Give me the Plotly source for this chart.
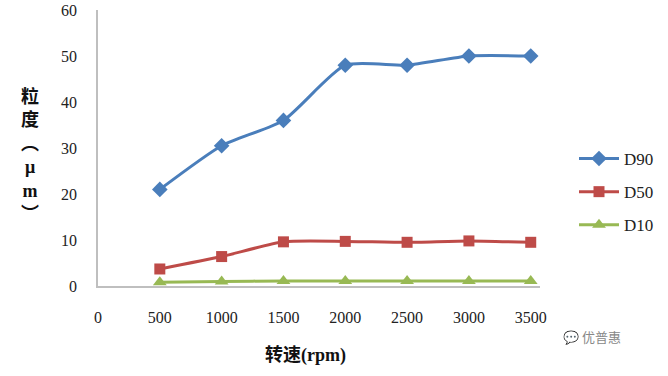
import plotly.graph_objects as go

speeds = [500, 1000, 1500, 2000, 2500, 3000, 3500]
d90 = [21, 30.5, 36, 48, 48, 50, 50]
d50 = [3.7, 6.4, 9.6, 9.7, 9.5, 9.8, 9.5]
d10 = [0.8, 1.0, 1.1, 1.1, 1.1, 1.1, 1.1]
x_ticks = [0, 500, 1000, 1500, 2000, 2500, 3000, 3500]
y_ticks = [0, 10, 20, 30, 40, 50, 60]

serif = "Liberation Serif"

# plot area in target-picture pixels (page margin removed by post_script)
L, R, T, B = 98, 540, 10, 286
W, H = R - L, B - T

def px_x(x):
    return (x - L) / W

def px_y(y):
    return (B - y) / H

fig = go.Figure()
series = [
    ("D90", d90, "#4A7EBB", "diamond", 12),
    ("D50", d50, "#BE4B48", "square", 11),
    ("D10", d10, "#98B954", "triangle-up", 12),
]
for name, vals, color, sym, sz in series:
    fig.add_trace(go.Scatter(
        x=speeds, y=vals, name=name, mode="lines+markers", legendgroup=name,
        line=dict(color=color, width=3, shape="spline", smoothing=0.6),
        marker=dict(symbol=sym, size=sz, color=color),
    ))

fig.update_layout(
    width=668, height=376,
    margin=dict(l=L, r=668 - R, t=T, b=376 - B, autoexpand=False),
    paper_bgcolor="white", plot_bgcolor="white",
    font=dict(family=serif, size=16, color="#222222"),
    showlegend=True,
    legend=dict(x=px_x(574), y=px_y(192), xanchor="left", yanchor="middle",
                font=dict(family=serif, size=17, color="#222222"),
                tracegroupgap=8, itemwidth=40, bgcolor="rgba(0,0,0,0)"),
    xaxis=dict(range=[0, 3575], tickmode="array", tickvals=x_ticks,
               ticktext=[str(v) for v in x_ticks], showgrid=False, zeroline=False,
               showline=True, linecolor="#BFBFBF", linewidth=1.5, ticks="",
               automargin=False, ticklabelstandoff=16, ticklabeloverflow="allow",
               tickfont=dict(family=serif, size=16, color="#222222")),
    yaxis=dict(range=[0, 60], tickmode="array", tickvals=y_ticks,
               showgrid=False, zeroline=False, showline=True, linecolor="#BFBFBF",
               linewidth=1.5, ticks="", automargin=False, ticklabelstandoff=16,
               ticklabeloverflow="allow",
               tickfont=dict(family=serif, size=16, color="#222222")),
)

fig.add_annotation(
    text="<b>粒<br>度<br>︵<br>μ<br>m<br>︶</b>", xref="paper", yref="paper",
    x=px_x(30), y=px_y(155), xanchor="center", yanchor="middle", showarrow=False,
    font=dict(family="Liberation Serif, Noto Sans CJK SC", size=18, color="#111111"),
)
fig.add_annotation(
    text="<b>转速(rpm)</b>", xref="paper", yref="paper",
    x=px_x(305), y=px_y(355), xanchor="center", yanchor="middle", showarrow=False,
    font=dict(family="Liberation Serif, Noto Sans CJK SC", size=18, color="#111111"),
)
fig.add_annotation(
    text="💬 优普惠", xref="paper", yref="paper",
    x=px_x(592), y=px_y(336), xanchor="center", yanchor="middle", showarrow=False,
    font=dict(family="Noto Sans CJK SC", size=13, color="#888888"),
)

fig.write_html("out.html", config={"displayModeBar": False},
               post_script="document.body.style.margin='0';")
